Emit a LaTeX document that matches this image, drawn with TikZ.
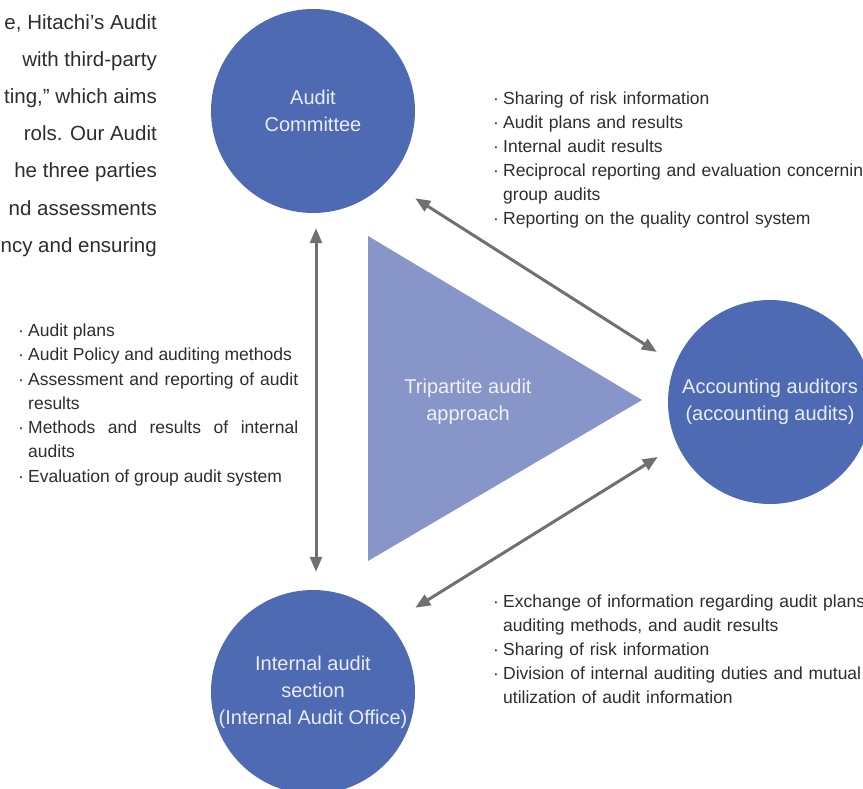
\documentclass[tikz,border=0pt]{standalone}
\usepackage{fontspec}
\setmainfont{Liberation Sans}
\usetikzlibrary{arrows.meta,positioning}
\definecolor{auditblue}{RGB}{78,106,178}
\definecolor{trililac}{RGB}{135,149,200}
\definecolor{arrgray}{RGB}{112,112,112}
\definecolor{txtgray}{RGB}{45,45,45}
\newcommand{\itm}{\par\noindent\hangindent=10pt\hangafter=1\makebox[10pt][l]{\textperiodcentered}}

\begin{document}
\begin{tikzpicture}[x=1pt, y=-1pt,
          party/.style={circle, fill=auditblue, minimum size=204pt,
                        inner sep=0pt, font=\fontsize{20}{27}\selectfont,
                        text=white!88!auditblue, align=center},
          arr/.style={{Triangle[length=15pt,width=12pt]}-{Triangle[length=15pt,width=12pt]},
                      line width=3pt, arrgray},
          lst/.style={font=\fontsize{17.5}{24}\selectfont, text=txtgray,
                      align=justify, inner sep=0pt, anchor=north west},
          para/.style={font=\fontsize{20.5}{37.2}\selectfont, text=txtgray,
                       align=right, inner sep=0pt, anchor=north east}
        ]
          \useasboundingbox (0,0) rectangle (863,789);
          \clip (0,0) rectangle (863,789);
          % paragraph cut off at the left edge
          \node[para] (intro) at (157,14) {e, Hitachi's Audit\\ with third-party\\ting,'' which aims\\rols. Our Audit\\he three parties\\nd assessments\\ncy and ensuring};
          % the three parties
          \node[party] (ac) at (313,111) {Audit\\Committee};
          \node[party] (aa) at (770,402) {Accounting auditors\\(accounting audits)};
          \node[party] (ia) at (313,692) {Internal audit\\section\\(Internal Audit Office)};
          % triangle in the middle
          \fill[trililac] (368,236) -- (368,561) -- (642,400) -- cycle;
          \node[font=\fontsize{20}{27}\selectfont, text=white!88!trililac, align=center] (tri) at (468,402) {Tripartite audit\\approach};
          % two-way arrows
          \draw[arr] ([xshift=3pt,yshift=-15pt]ac.south) -- ([xshift=3pt,yshift=18pt]ia.north);
          \draw[arr] ([xshift=30pt,yshift=-15pt]ac.south east) -- ([xshift=-11pt,yshift=50pt]aa.west);
          \draw[arr] ([xshift=30pt,yshift=12pt]ia.north east) -- ([xshift=-10pt,yshift=-55pt]aa.west);
          % exchanged items
          \node[lst, text width=280pt, font=\fontsize{17.5}{24.3}\selectfont] (acia) at (18,312) {\itm Audit plans
            \itm Audit Policy and auditing methods
            \itm Assessment and reporting of audit\linebreak results
            \itm Methods and results of internal\linebreak audits
            \itm Evaluation of group audit system\par};
          \node[lst, text width=420pt, align=left] (acaa) at (493,80) {\itm Sharing of risk information
            \itm Audit plans and results
            \itm Internal audit results
            \itm Reciprocal reporting and evaluation concerning\newline group audits
            \itm Reporting on the quality control system\par};
          \node[lst, text width=420pt, align=left] (iaaa) at (493,583) {\itm Exchange of information regarding audit plans,\newline auditing methods, and audit results
            \itm Sharing of risk information
            \itm Division of internal auditing duties and mutual\newline utilization of audit information\par};
        \end{tikzpicture}
\end{document}
